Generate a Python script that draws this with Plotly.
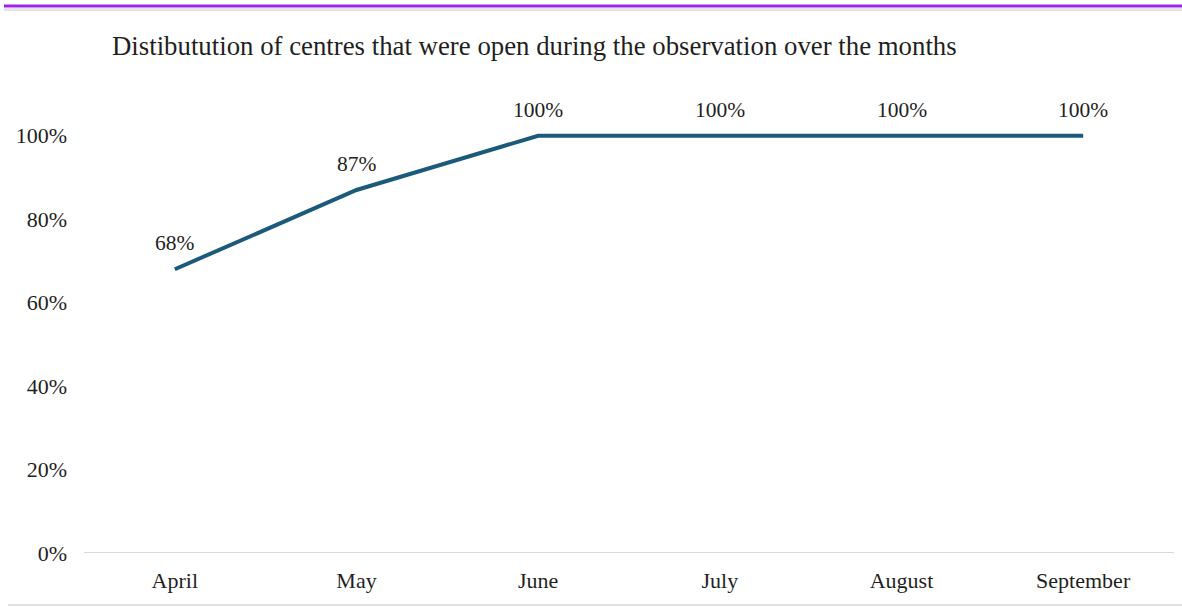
import plotly.graph_objects as go

months = ["April", "May", "June", "July", "August", "September"]
open_share = [0.68, 0.87, 1.00, 1.00, 1.00, 1.00]
data_labels = ["68%", "87%", "100%", "100%", "100%", "100%"]
y_ticks = [0, 0.2, 0.4, 0.6, 0.8, 1.0]
y_tick_labels = ["0%", "20%", "40%", "60%", "80%", "100%"]
title_text = "Distibutution of centres that were open during the observation over the months"

FONT = "Liberation Serif, Times New Roman, serif"
TXT = "#1f1f1f"

W, H = 1182, 607
L, R, T, B = 84, 8, 94, 54
pw, ph = W - L - R, H - T - B

def px_to_paper_x(px):
    return (px - L) / pw

def px_to_paper_y(py):
    return (H - B - py) / ph

fig = go.Figure()
fig.add_trace(go.Scatter(
    x=months, y=open_share, mode="lines",
    line=dict(color="#1b5a7a", width=4),
    hoverinfo="skip", showlegend=False,
))

for m, v, t in zip(months, open_share, data_labels):
    fig.add_annotation(x=m, y=v, text=t, showarrow=False, yshift=26,
                       font=dict(family=FONT, size=21.5, color=TXT))

shapes = [
    dict(type="line", xref="paper", yref="paper",
         x0=px_to_paper_x(4), x1=px_to_paper_x(1182),
         y0=px_to_paper_y(6), y1=px_to_paper_y(6),
         line=dict(color="#a020f0", width=3)),
    dict(type="line", xref="paper", yref="paper",
         x0=px_to_paper_x(4), x1=px_to_paper_x(1182),
         y0=px_to_paper_y(9.5), y1=px_to_paper_y(9.5),
         line=dict(color="#e4e4e4", width=3)),
    dict(type="line", xref="paper", yref="paper",
         x0=px_to_paper_x(8), x1=px_to_paper_x(1182),
         y0=px_to_paper_y(605), y1=px_to_paper_y(605),
         line=dict(color="#e0e0e0", width=2)),
]

fig.update_layout(
    width=W, height=H,
    margin=dict(l=L, r=R, t=T, b=B),
    paper_bgcolor="white", plot_bgcolor="white",
    font=dict(family=FONT, size=22, color=TXT),
    title=dict(text=title_text, x=112 / W, xanchor="left", xref="container",
               y=1 - 46 / H, yanchor="middle", yref="container",
               font=dict(family=FONT, size=26.8, color=TXT)),
    shapes=shapes,
    xaxis=dict(type="category", range=[-0.5, 5.5], showgrid=False,
               showline=False, zeroline=False, ticks="",
               tickfont=dict(family=FONT, size=22, color=TXT),
               ticklabelstandoff=12),
    yaxis=dict(range=[0, 1.1], tickvals=y_ticks, ticktext=y_tick_labels,
               showgrid=False, zeroline=False, showline=False, ticks="",
               tickfont=dict(family=FONT, size=22, color=TXT),
               ticklabelstandoff=16),
)
fig.add_hline(y=0, line=dict(color="#d9d9d9", width=2), layer="below")

fig.write_html("out.html")
